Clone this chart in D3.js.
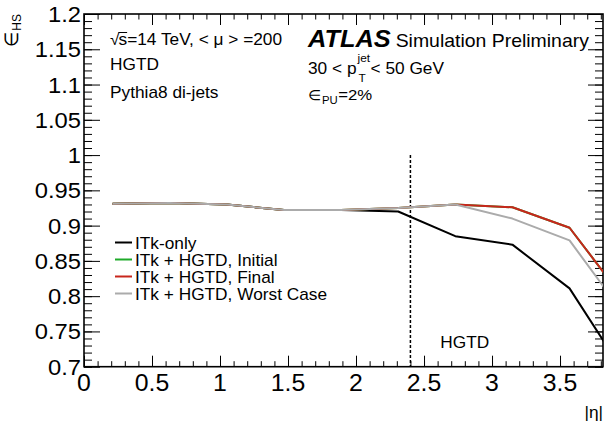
<!DOCTYPE html>
<html><head><meta charset="utf-8">
<script src="https://cdn.jsdelivr.net/npm/d3@7"></script>
<style>
body{margin:0;background:#fff}
svg{display:block}
text{font-family:"Liberation Sans", Arial, Helvetica, sans-serif; fill:#000}
</style>
</head><body>
<svg id="c" width="604" height="421"></svg>
<script>
// ---------------- data ----------------
const etaCenters  = [0.21, 0.63, 1.05, 1.47, 1.89, 2.31, 2.73, 3.15, 3.57, 3.99];
const effItkOnly  = [0.931, 0.932, 0.930, 0.922, 0.922, 0.920, 0.885, 0.873, 0.811, 0.686];
const effInitial  = [0.931, 0.932, 0.930, 0.922, 0.922, 0.925, 0.930, 0.926, 0.897, 0.791];
const effFinal    = [0.931, 0.932, 0.930, 0.922, 0.922, 0.925, 0.930, 0.926, 0.897, 0.791];
const effWorst    = [0.931, 0.932, 0.930, 0.922, 0.922, 0.925, 0.930, 0.910, 0.879, 0.769];
const seriesNames  = ["ITk-only", "ITk + HGTD, Initial", "ITk + HGTD, Final", "ITk + HGTD, Worst Case"];
const seriesColors = ["#000000", "#1faa2a", "#c8261c", "#ababab"];
const xMajorTicks = [0, 0.5, 1, 1.5, 2, 2.5, 3, 3.5];
const xTickLabels = ["0", "0.5", "1", "1.5", "2", "2.5", "3", "3.5"];
const yMajorTicks = [0.7, 0.75, 0.8, 0.85, 0.9, 0.95, 1.0, 1.05, 1.1, 1.15, 1.2];
const yTickLabels = ["0.7", "0.75", "0.8", "0.85", "0.9", "0.95", "1", "1.05", "1.1", "1.15", "1.2"];
const hgtdEdge = 2.4;

// ---------------- layout ----------------
const S = 1.08; // horizontal stretch of the original raster text
const L = 84, R = 603, TOP = 14, BOT = 366.7;
const svg = d3.select("#c");
const x = d3.scaleLinear().domain([0, 3.816]).range([L, R]);
const y = d3.scaleLinear().domain([0.7, 1.2]).range([BOT, TOP]);

const xMinor = d3.range(0, 3.81, 0.1).map(v => +v.toFixed(2));
const yMinor = d3.range(0.7, 1.2001, 0.01).map(v => +v.toFixed(2));

function txt(px, py, str, size, anchor, parent) {
  return (parent || svg).append("text")
    .attr("transform", `translate(${px},${py}) scale(${S},1)`)
    .attr("font-size", size).attr("text-anchor", anchor || "start")
    .text(str);
}
function w(t) { return t.node().getComputedTextLength() * S; }

// clip
svg.append("clipPath").attr("id", "plot").append("rect")
  .attr("x", L).attr("y", TOP).attr("width", R - L).attr("height", BOT - TOP);

// ---------------- axes ----------------
function axis(gen, tr, vals, size) {
  const g = svg.append("g").attr("transform", tr)
    .call(gen.tickValues(vals).tickSize(size).tickFormat(""));
  g.select(".domain").remove();
  g.selectAll("line").attr("stroke", "#000").attr("stroke-width", 1);
  return g;
}
axis(d3.axisBottom(x), `translate(0,${BOT})`, xMajorTicks, -11);
axis(d3.axisBottom(x), `translate(0,${BOT})`, xMinor, -5.5);
axis(d3.axisTop(x), `translate(0,${TOP})`, xMajorTicks, -11);
axis(d3.axisTop(x), `translate(0,${TOP})`, xMinor, -5.5);
axis(d3.axisLeft(y), `translate(${L},0)`, yMajorTicks, -16);
axis(d3.axisLeft(y), `translate(${L},0)`, yMinor, -8);
axis(d3.axisRight(y), `translate(${R},0)`, yMajorTicks, -15);
axis(d3.axisRight(y), `translate(${R},0)`, yMinor, -8);

svg.append("rect").attr("x", L).attr("y", TOP).attr("width", R - L).attr("height", BOT - TOP)
  .attr("fill", "none").attr("stroke", "#000").attr("stroke-width", 1.6);

// tick labels
xMajorTicks.forEach((v, i) => txt(x(v), BOT + 24, xTickLabels[i], 23, "middle"));
yMajorTicks.forEach((v, i) => txt(L - 3, y(v) + 8, yTickLabels[i], 22, "end"));

// axis titles
const yt = svg.append("text").attr("transform", `translate(18,14) scale(${S},1) rotate(-90)`)
  .attr("text-anchor", "end").attr("font-size", 18);
yt.append("tspan").text("\u2208");
yt.append("tspan").attr("font-size", 12).attr("dy", 3).text("HS");
txt(R, 418, "|\u03b7|", 16, "end");

// ---------------- HGTD boundary ----------------
svg.append("line").attr("x1", x(hgtdEdge)).attr("x2", x(hgtdEdge))
  .attr("y1", y(1.0)).attr("y2", y(0.7))
  .attr("stroke", "#000").attr("stroke-width", 1.5).attr("stroke-dasharray", "3,2");
txt(x(2.62), 348, "HGTD", 16, "start");

// ---------------- curves ----------------
const allSeries = [effItkOnly, effInitial, effFinal, effWorst];
const line = d3.line().x((d, i) => x(etaCenters[i])).y(d => y(d));
const cg = svg.append("g").attr("clip-path", "url(#plot)");
allSeries.forEach((s, k) => {
  cg.append("path").datum(s).attr("d", line).attr("fill", "none")
    .attr("stroke", seriesColors[k]).attr("stroke-width", 2).attr("stroke-linejoin", "round");
});

// ---------------- legend ----------------
seriesNames.forEach((n, k) => {
  const ly = 242.5 + k * 17;
  svg.append("line").attr("x1", 115).attr("x2", 132).attr("y1", ly).attr("y2", ly)
    .attr("stroke", seriesColors[k]).attr("stroke-width", 2);
  txt(135, ly + 6, n, 16, "start");
});

// ---------------- labels ----------------
// sqrt(s) line
{
  const t1 = txt(110, 45, "\u221a", 16);
  let cx = 110 + w(t1) - 1;
  const t2 = txt(cx, 45, "s", 16);
  svg.append("line").attr("x1", cx).attr("x2", cx + w(t2)).attr("y1", 32.5).attr("y2", 32.5)
    .attr("stroke", "#000").attr("stroke-width", 1);
  cx += w(t2);
  txt(cx, 45, "=14 TeV, < \u03bc > =200", 16);
}
txt(110, 70, "HGTD", 16);
txt(110, 98, "Pythia8 di-jets", 16);

// ATLAS line
{
  const a = txt(308, 47, "ATLAS", 23.5).attr("font-weight", "bold").attr("font-style", "italic");
  txt(308 + w(a) + 5, 47, "Simulation Preliminary", 18);
}
// pT line
{
  const t1 = txt(308, 74, "30 < p", 16);
  const cx = 308 + w(t1) + 1;
  txt(cx, 62, "jet", 11);
  txt(cx + 1, 82, "T", 11);
  txt(cx + 13, 74, " < 50 GeV", 16);
}
// eps PU
{
  const e = txt(308, 100, "\u2208", 14);
  let cx = 308 + w(e) + 0.5;
  const p = txt(cx, 104, "PU", 10.5);
  cx += w(p) + 0.5;
  txt(cx, 100, "=2%", 15.5);
}
</script>
</body></html>
